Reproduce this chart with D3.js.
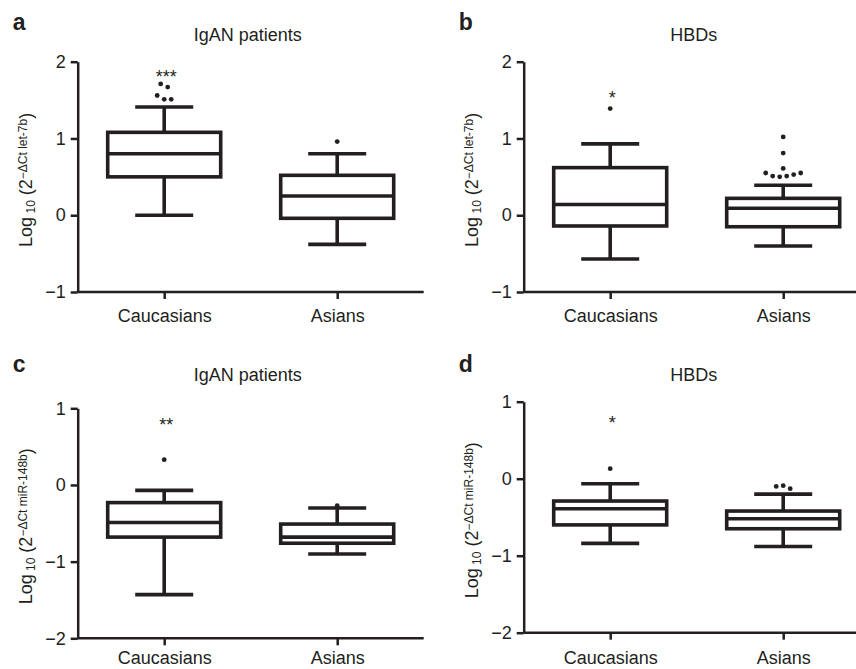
<!DOCTYPE html>
<html>
<head>
<meta charset="utf-8">
<script src="https://cdn.jsdelivr.net/npm/d3@7"></script>
<style>
  body { margin: 0; background: #fff; }
  svg text { font-family: "Liberation Sans", Arial, Helvetica, sans-serif; fill: #231f20; }
</style>
</head>
<body>
<svg id="chart" width="856" height="669"></svg>
<script>
const groups = ['Caucasians', 'Asians'];
const ticksUpper = [-1, 0, 1, 2];
const ticksLower = [-2, -1, 0, 1];

// a - let-7b, IgAN patients
const aLow = [0.0, -0.38];
const aQ1 = [0.50, -0.04];
const aMed = [0.80, 0.25];
const aQ3 = [1.08, 0.52];
const aHigh = [1.41, 0.80];
const aOut = [[1.71, 1.67, 1.56, 1.51, 1.51], [0.96]];

// b - let-7b, HBDs
const bLow = [-0.57, -0.40];
const bQ1 = [-0.14, -0.15];
const bMed = [0.14, 0.09];
const bQ3 = [0.62, 0.22];
const bHigh = [0.93, 0.39];
const bOut = [[1.39], [1.02, 0.81, 0.61, 0.55, 0.51, 0.50, 0.51, 0.53, 0.55]];

// c - miR-148b, IgAN patients
const cLow = [-1.43, -0.90];
const cQ1 = [-0.68, -0.76];
const cMed = [-0.49, -0.68];
const cQ3 = [-0.23, -0.51];
const cHigh = [-0.07, -0.30];
const cOut = [[0.33], [-0.27]];

// d - miR-148b, HBDs
const dLow = [-0.84, -0.88];
const dQ1 = [-0.60, -0.65];
const dMed = [-0.39, -0.52];
const dQ3 = [-0.29, -0.42];
const dHigh = [-0.065, -0.20];
const dOut = [[0.13], [-0.10, -0.09, -0.13]];

const sigText = ['***', '*', '**', '*'];
const sigValue = [1.85, 1.58, 0.83, 0.77];

const INK = '#231f20';
const AXIS_W = 346;
const BOX_W = 113;
const CAP_W = 58;

const svg = d3.select('#chart');

const panels = [
  { letter: 'a', title: 'IgAN patients', gene: 'let-7b', ticks: ticksUpper,
    low: aLow, q1: aQ1, med: aMed, q3: aQ3, high: aHigh, out: aOut,
    left: 77.7, top: 61.7, bottom: 292, labelPad: 10, letterY: 30, titleY: 41 },
  { letter: 'b', title: 'HBDs', gene: 'let-7b', ticks: ticksUpper,
    low: bLow, q1: bQ1, med: bMed, q3: bQ3, high: bHigh, out: bOut,
    left: 523.7, top: 61.7, bottom: 292, labelPad: 10, letterY: 30, titleY: 41 },
  { letter: 'c', title: 'IgAN patients', gene: 'miR-148b', ticks: ticksLower,
    low: cLow, q1: cQ1, med: cMed, q3: cQ3, high: cHigh, out: cOut,
    left: 77.7, top: 408.3, bottom: 638.3, labelPad: 6, letterY: 372, titleY: 381 },
  { letter: 'd', title: 'HBDs', gene: 'miR-148b', ticks: ticksLower,
    low: dLow, q1: dQ1, med: dMed, q3: dQ3, high: dHigh, out: dOut,
    left: 523.7, top: 401.7, bottom: 632.7, labelPad: 12, letterY: 372, titleY: 381 }
];

// put neighbouring outliers side by side
function spread(vals, y) {
  const res = [];
  let grp = [];
  const flush = () => {
    grp.forEach((v, i) => res.push({ v, dx: (i - (grp.length - 1) / 2) * 7 }));
    grp = [];
  };
  vals.forEach(v => {
    if (grp.length && Math.abs(y(v) - y(grp[0])) > 4) flush();
    grp.push(v);
  });
  flush();
  return res;
}

panels.forEach((p, pi) => {
  const g = svg.append('g').attr('class', `panel-${p.letter}`);
  const y = d3.scaleLinear().domain(d3.extent(p.ticks)).range([p.bottom, p.top]);
  const x = d3.scalePoint().domain(groups).range([p.left, p.left + AXIS_W]).padding(0.5);

  // letter + title
  g.append('text')
    .attr('x', p.left - 65).attr('y', p.letterY)
    .attr('font-size', 23).attr('font-weight', 'bold')
    .text(p.letter);
  g.append('text')
    .attr('x', p.left + 170).attr('y', p.titleY)
    .attr('text-anchor', 'middle').attr('font-size', 18)
    .text(p.title);

  // axes
  const yAxis = g.append('g')
    .attr('transform', `translate(${p.left},0)`)
    .call(d3.axisLeft(y).tickValues(p.ticks).tickFormat(d3.format('d'))
      .tickSize(7).tickSizeOuter(0).tickPadding(5));
  const xAxis = g.append('g')
    .attr('transform', `translate(0,${p.bottom})`)
    .call(d3.axisBottom(x).tickSize(7).tickSizeOuter(0).tickPadding(p.labelPad));
  [yAxis, xAxis].forEach(a => {
    a.select('.domain').attr('stroke', INK).attr('stroke-width', 2.5);
    a.selectAll('.tick line').attr('stroke', INK).attr('stroke-width', 2.5);
    a.selectAll('text').attr('fill', INK).attr('font-family', null);
  });
  yAxis.selectAll('text').attr('font-size', 18);
  xAxis.selectAll('text').attr('font-size', 18);
  // let the x axis start where the y axis is
  xAxis.select('.domain').attr('d', `M${p.left},0H${p.left + AXIS_W}`);

  // y label
  const lab = g.append('text')
    .attr('transform', `translate(${p.left - 46},${(p.top + p.bottom) / 2 + 3}) rotate(-90)`)
    .attr('text-anchor', 'middle').attr('font-size', 18);
  lab.append('tspan').text('Log');
  lab.append('tspan').attr('font-size', 12).attr('dy', 3).text('\u00a010');
  lab.append('tspan').attr('dy', -3).text('\u00a0(2');
  lab.append('tspan').attr('font-size', 12).attr('dy', -5).text(`\u2212\u0394Ct ${p.gene}`);
  lab.append('tspan').attr('dy', 5).text(')');

  // boxes
  const stats = groups.map((k, i) => ({
    k, low: p.low[i], q1: p.q1[i], med: p.med[i], q3: p.q3[i], high: p.high[i], out: p.out[i]
  }));
  const box = g.selectAll('.box').data(stats).enter().append('g')
    .attr('class', 'box')
    .attr('stroke', INK).attr('stroke-width', 3.6).attr('fill', 'none');
  box.append('line')
    .attr('x1', d => x(d.k)).attr('x2', d => x(d.k))
    .attr('y1', d => y(d.high)).attr('y2', d => y(d.q3));
  box.append('line')
    .attr('x1', d => x(d.k)).attr('x2', d => x(d.k))
    .attr('y1', d => y(d.q1)).attr('y2', d => y(d.low));
  box.append('line')
    .attr('x1', d => x(d.k) - CAP_W / 2).attr('x2', d => x(d.k) + CAP_W / 2)
    .attr('y1', d => y(d.high)).attr('y2', d => y(d.high));
  box.append('line')
    .attr('x1', d => x(d.k) - CAP_W / 2).attr('x2', d => x(d.k) + CAP_W / 2)
    .attr('y1', d => y(d.low)).attr('y2', d => y(d.low));
  box.append('rect')
    .attr('x', d => x(d.k) - BOX_W / 2).attr('width', BOX_W)
    .attr('y', d => y(d.q3)).attr('height', d => y(d.q1) - y(d.q3));
  box.append('line')
    .attr('x1', d => x(d.k) - BOX_W / 2).attr('x2', d => x(d.k) + BOX_W / 2)
    .attr('y1', d => y(d.med)).attr('y2', d => y(d.med));

  // outliers
  stats.forEach(s => {
    g.selectAll(null).data(spread(s.out, y)).enter().append('circle')
      .attr('cx', d => x(s.k) + d.dx).attr('cy', d => y(d.v))
      .attr('r', 2.4).attr('fill', INK);
  });

  // significance
  g.append('text')
    .attr('x', x(groups[0]) + 2).attr('y', y(sigValue[pi]) + 10)
    .attr('text-anchor', 'middle').attr('font-size', 18)
    .text(sigText[pi]);
});
</script>
</body>
</html>
